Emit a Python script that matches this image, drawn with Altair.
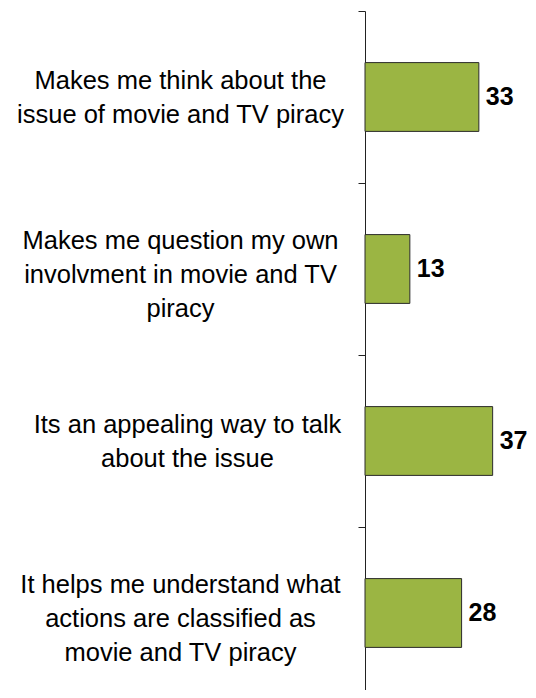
import altair as alt
import pandas as pd

categories = [
    "Makes me think about the|issue of movie and TV piracy",
    "Makes me question my own|involvment in movie and TV|piracy",
    "Its an appealing way to talk|about the issue",
    "It helps me understand what|actions are classified as|movie and TV piracy",
]
values = [33, 13, 37, 28]

df = pd.DataFrame({"cat": categories, "val": values})

nlines = "length(split(datum.label, '|'))"

base = alt.Chart(df).encode(
    y=alt.Y(
        "cat:N",
        sort=categories,
        scale=alt.Scale(paddingInner=0.6, paddingOuter=0.3, range=[0, 688]),
        axis=alt.Axis(
            title=None,
            labelExpr="split(datum.label, '|')",
            labelAlign="center",
            labelBaseline="middle",
            labelPadding=alt.ExprRef("indexof(datum.label, 'appealing') >= 0 ? 171 : 178"),
            labelFont="Liberation Sans",
            labelFontSize=25.5,
            labelColor="#000000",
            labelLineHeight=34,
            labelLimit=400,
            tickOffset=-86,
            labelOffset=alt.ExprRef(f"86 - ({nlines} - 1) * 17 + ({nlines} - 2) * 5.5"),
            tickSize=7,
            tickColor="#222222",
            domainColor="#222222",
            tickWidth=1,
            domainWidth=1,
        ),
    ),
    x=alt.X("val:Q", scale=alt.Scale(domain=[0, 40], nice=False, zero=True), axis=None),
)

bars = base.mark_bar(color="#9BB543", stroke="#2b2b2b", strokeWidth=1)
text = base.mark_text(
    align="left", baseline="middle", dx=7, font="Liberation Sans",
    fontSize=25, fontWeight="bold", color="#000000"
).encode(text="val:Q")

chart = (
    (bars + text)
    .properties(
        width=138,
        height=679,
        background="white",
        autosize=alt.AutoSizeParams(type="none"),
        padding={"left": 357, "top": 3, "right": 25, "bottom": 0},
    )
    .configure_view(stroke="transparent", strokeWidth=0)
)

chart.save("out.html", embed_options={"renderer": "svg", "actions": False})
